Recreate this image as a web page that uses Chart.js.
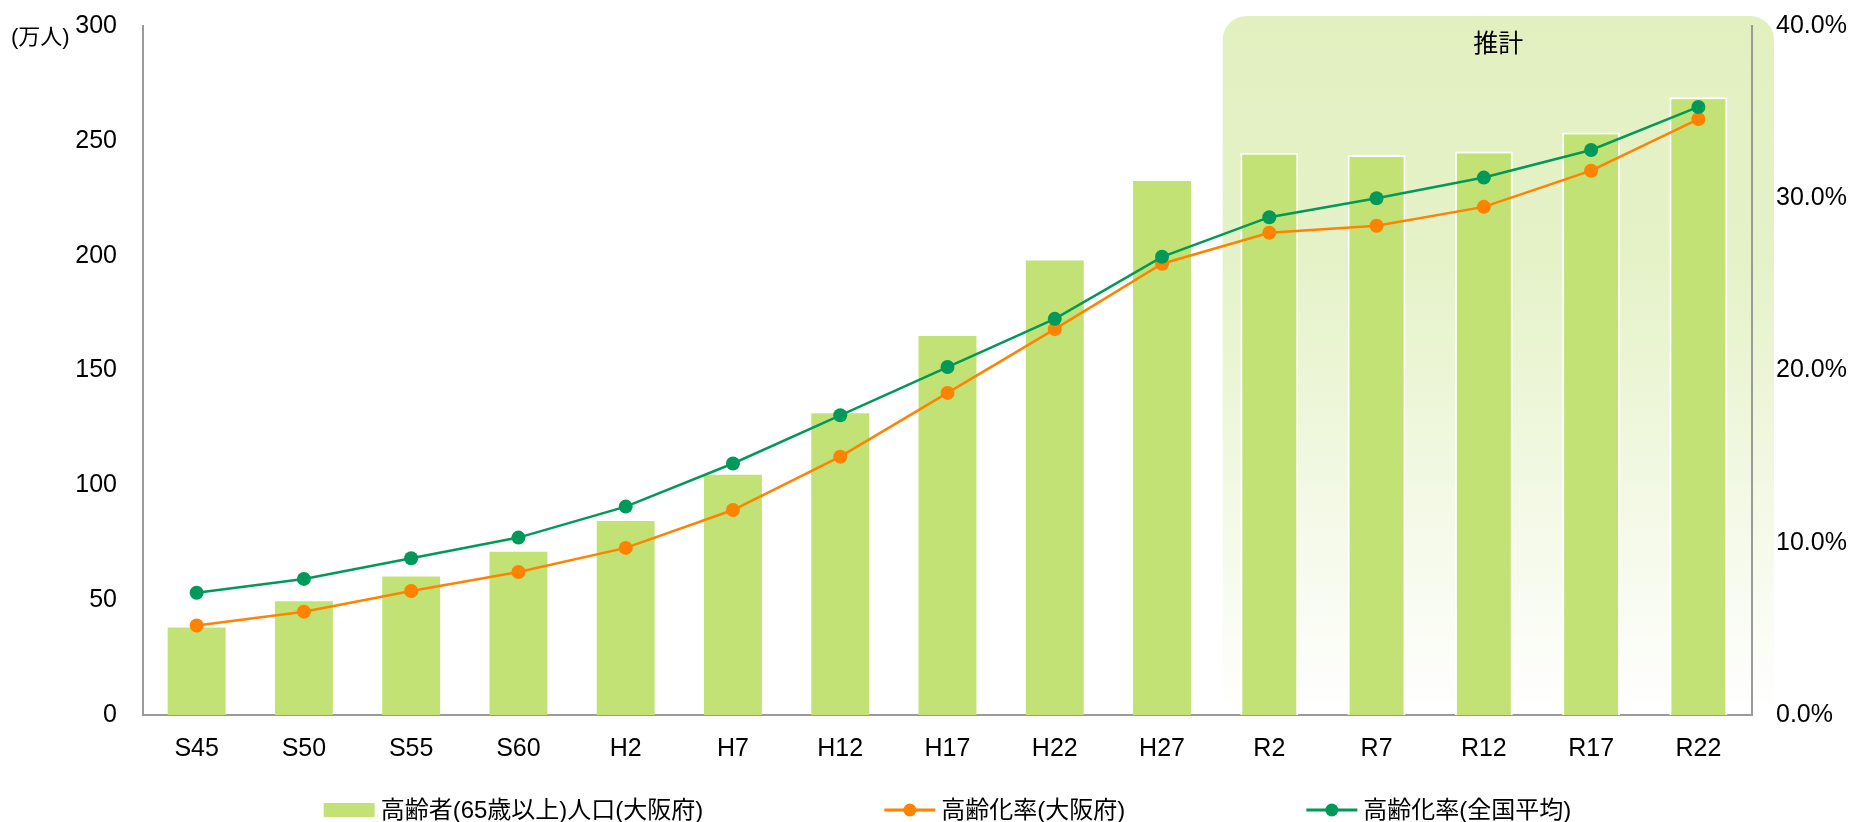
<!DOCTYPE html>
<html>
<head>
  <meta charset="utf-8">
  <title>高齢者人口と高齢化率</title>
  <script src="https://cdn.jsdelivr.net/npm/chart.js@4.4.0/dist/chart.umd.min.js"></script>
  <style>
    html, body { margin: 0; padding: 0; background: #fff; }
    #wrap { width: 1856px; height: 822px; position: relative; }
  </style>
</head>
<body>
  <div id="wrap"><canvas id="chart"></canvas></div>
  <script>
    // data
    var LABELS = ['S45', 'S50', 'S55', 'S60', 'H2', 'H7', 'H12', 'H17', 'H22', 'H27', 'R2', 'R7', 'R12', 'R17', 'R22'];
    var ELDERLY = [38.1, 49.5, 60.3, 71.1, 84.5, 104.6, 131.4, 165.0, 197.9, 232.5, 244.8, 243.8, 245.4, 253.6, 269.0];
    var RATE_OSAKA = [5.2, 6.0, 7.2, 8.3, 9.7, 11.9, 15.0, 18.7, 22.4, 26.2, 28.0, 28.4, 29.5, 31.6, 34.6];
    var RATE_JAPAN = [7.1, 7.9, 9.1, 10.3, 12.1, 14.6, 17.4, 20.2, 23.0, 26.6, 28.9, 30.0, 31.2, 32.8, 35.3];
    var FIRST_ESTIMATE = 10;   // R2 onwards is projection

    var FONT = '"Liberation Sans", Arial, "Noto Sans CJK JP", sans-serif';
    var BAR = '#c3e275', ORANGE = '#ff8200', GREEN = '#00995a', AXIS = '#9a9a9a';

    // vertical axes: fixed width, no extra label padding so the plot top is set by layout
    function fixAxis(w) {
      return function(s) {
        s.width = w;
        s.paddingTop = 0;
        s.paddingBottom = 0;
      };
    }

    var extras = {
      id: 'extras',
      beforeDraw: function(chart) {
        var ctx = chart.ctx, a = chart.chartArea, x = chart.scales.x;
        // shaded "推計" block
        var l = x.getPixelForValue(FIRST_ESTIMATE - 0.5) + 7;
        var r = a.right + 22, t = a.top - 10, b = a.bottom, rad = 24;
        var g = ctx.createLinearGradient(0, t, 0, b);
        g.addColorStop(0, '#e2f0c0');
        g.addColorStop(0.35, '#e5f2c8');
        g.addColorStop(1, '#ffffff');
        ctx.save();
        ctx.fillStyle = g;
        ctx.beginPath();
        ctx.moveTo(l, b);
        ctx.lineTo(l, t + rad);
        ctx.arcTo(l, t, l + rad, t, rad);
        ctx.lineTo(r - rad, t);
        ctx.arcTo(r, t, r, t + rad, rad);
        ctx.lineTo(r, b);
        ctx.closePath();
        ctx.fill();
        ctx.fillStyle = '#000';
        ctx.font = '25px ' + FONT;
        ctx.textAlign = 'center';
        ctx.textBaseline = 'middle';
        ctx.fillText('推計', (l + r) / 2, 45);
        // unit label
        ctx.font = '22px ' + FONT;
        ctx.textAlign = 'left';
        ctx.fillText('(万人)', 11, 38);
        ctx.restore();
      },
      afterDraw: function(chart) {
        var ctx = chart.ctx, a = chart.chartArea;
        var ds = chart.data.datasets;
        var sym = 51, gap = 6, pad = 181, y = 810;
        ctx.save();
        ctx.font = '24px ' + FONT;
        var widths = ds.map(function(d) { return sym + gap + ctx.measureText(d.label).width; });
        var total = widths.reduce(function(s, w) { return s + w; }, 0) + pad * (ds.length - 1);
        var cx = (a.left + a.right) / 2 - total / 2;
        ds.forEach(function(d, i) {
          if (d.type === 'line') {
            ctx.strokeStyle = d.borderColor;
            ctx.lineWidth = 3;
            ctx.beginPath();
            ctx.moveTo(cx, y);
            ctx.lineTo(cx + sym, y);
            ctx.stroke();
            ctx.fillStyle = d.borderColor;
            ctx.beginPath();
            ctx.arc(cx + sym / 2, y, 6.5, 0, Math.PI * 2);
            ctx.fill();
          } else {
            ctx.fillStyle = BAR;
            ctx.fillRect(cx, y - 7, sym, 14);
          }
          ctx.fillStyle = '#000';
          ctx.textAlign = 'left';
          ctx.textBaseline = 'middle';
          ctx.fillText(d.label, cx + sym + gap, y + 1);
          cx += widths[i] + pad;
        });
        ctx.restore();
      }
    };

    new Chart(document.getElementById('chart'), {
      type: 'bar',
      data: {
        labels: LABELS,
        datasets: [
          {
            type: 'bar',
            label: '高齢者(65歳以上)人口(大阪府)',
            data: ELDERLY,
            backgroundColor: BAR,
            borderColor: '#ffffff',
            borderWidth: function(c) { return c.dataIndex >= FIRST_ESTIMATE ? 2 : 0; },
            categoryPercentage: 1,
            barPercentage: 0.54,
            yAxisID: 'y',
            order: 3
          },
          {
            type: 'line',
            label: '高齢化率(大阪府)',
            data: RATE_OSAKA,
            borderColor: ORANGE,
            backgroundColor: ORANGE,
            borderWidth: 2.5,
            pointRadius: 7,
            pointBorderWidth: 0,
            tension: 0,
            yAxisID: 'y1',
            order: 2
          },
          {
            type: 'line',
            label: '高齢化率(全国平均)',
            data: RATE_JAPAN,
            borderColor: GREEN,
            backgroundColor: GREEN,
            borderWidth: 2.5,
            pointRadius: 7,
            pointBorderWidth: 0,
            tension: 0,
            yAxisID: 'y1',
            order: 1
          }
        ]
      },
      options: {
        responsive: true,
        maintainAspectRatio: false,
        animation: false,
        layout: { padding: { top: 26, bottom: 0, left: 0, right: 0 } },
        plugins: {
          legend: { display: false },
          tooltip: { enabled: false }
        },
        scales: {
          x: {
            grid: { display: false, drawTicks: false },
            border: { display: true, color: AXIS, width: 2 },
            ticks: { color: '#000', font: { size: 25, family: FONT }, padding: 19 },
            afterFit: function(s) { s.height = 107; }
          },
          y: {
            position: 'left',
            min: 0, max: 300,
            grid: { display: false, drawTicks: false },
            border: { display: true, color: AXIS, width: 2 },
            ticks: { stepSize: 50, color: '#000', font: { size: 25, family: FONT }, padding: 26 },
            afterFit: fixAxis(143)
          },
          y1: {
            position: 'right',
            min: 0, max: 40,
            grid: { display: false, drawTicks: false },
            border: { display: true, color: AXIS, width: 2 },
            ticks: {
              stepSize: 10, color: '#000', font: { size: 25, family: FONT }, padding: 24,
              callback: function(v) { return v.toFixed(1) + '%'; }
            },
            afterFit: fixAxis(104)
          }
        }
      },
      plugins: [extras]
    });
  </script>
</body>
</html>
